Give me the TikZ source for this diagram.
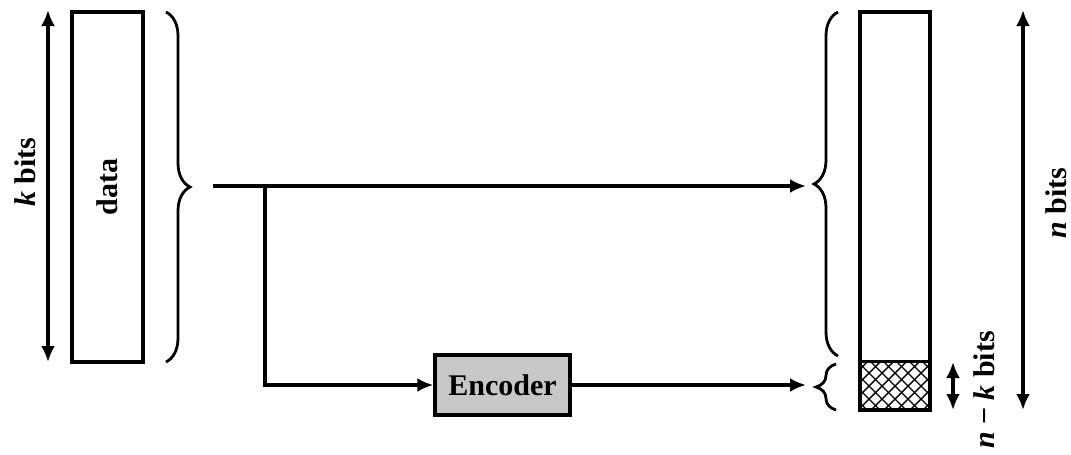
\documentclass[tikz,border=0pt]{standalone}
\usepackage{fontspec}
\setmainfont{Liberation Serif}
\usetikzlibrary{arrows.meta,decorations.pathreplacing}
\begin{document}
\begin{tikzpicture}[x=0.5pt,y=-0.5pt,
  box/.style={draw,line width=1.7pt,inner sep=0pt},
  conn/.style={line width=1.6pt,-{Latex[length=8pt,width=7pt]}},
  dbl/.style={line width=1.6pt,{Latex[length=8pt,width=7pt]}-{Latex[length=8pt,width=7pt]}},
  brc/.style={line width=1.4pt,decorate,decoration={brace,amplitude=12pt}},
  lbl/.style={font=\fontsize{15}{17}\selectfont\bfseries,inner sep=0pt,rotate=90}]
\useasboundingbox (0,0) rectangle (1071,455);
% data block
\node[box,minimum width=35.5pt,minimum height=175pt] (data) at (107.5,187) {};
\node[lbl] (datalbl) at (data.center) {data};
% k bits arrow
\coordinate (ktop) at (48,10);
\coordinate (kbot) at (48,362);
\draw[dbl] (ktop) -- (kbot);
\node[lbl] (klbl) at (25,172) {\textit{k} bits};
% left brace
\coordinate (lbtop) at (166,12);
\coordinate (lbbot) at (166,362);
\draw[brc] (lbtop) -- (lbbot);
% main arrow
\coordinate (src) at (213,186);
\coordinate (br) at (265,186);
\coordinate (dst) at (806,186);
\draw[conn] (src) -- (dst);
% encoder
\node[box,fill=black!22,minimum width=67.5pt,minimum height=30pt,
      font=\fontsize{15}{17}\selectfont\bfseries] (enc) at (502.5,385) {Encoder};
\draw[conn] (br) |- (enc.west);
\coordinate (dst2) at (806,385);
\draw[conn] (enc.east) -- (dst2);
% right braces
\coordinate (rbtop) at (838,12);
\coordinate (rbbot) at (838,356);
\draw[brc] (rbbot) -- (rbtop);
\coordinate (sbtop) at (836,364);
\coordinate (sbbot) at (836,410);
\draw[line width=1.4pt,decorate,decoration={brace,amplitude=10pt}] (sbbot) -- (sbtop);
% codeword block
\node[inner sep=0pt,minimum width=35pt,minimum height=24pt] (chk) at (895,386) {};
\begin{scope}
  \clip (chk.south west) rectangle (chk.north east);
  \foreach \i in {-80,-67,...,100} {
    \draw[line width=0.7pt] (860+\i,362) -- (860+\i+60,422);
    \draw[line width=0.7pt] (930-\i,362) -- (930-\i-60,422);
  }
\end{scope}
\draw[line width=1.7pt] (chk.north west) -- (chk.north east);
\node[box,minimum width=35pt,minimum height=199pt] (cw) at (895,211) {};
% n-k bits arrow
\coordinate (nktop) at (953,362);
\coordinate (nkbot) at (953,410);
\draw[dbl] (nktop) -- (nkbot);
\node[lbl] (nklbl) at (984,390) {\textit{n} − \textit{k} bits};
% n bits arrow
\coordinate (ntop) at (1023,10);
\coordinate (nbot) at (1023,410);
\draw[dbl] (ntop) -- (nbot);
\node[lbl] (nlbl) at (1056,203) {\textit{n} bits};
\end{tikzpicture}
\end{document}
